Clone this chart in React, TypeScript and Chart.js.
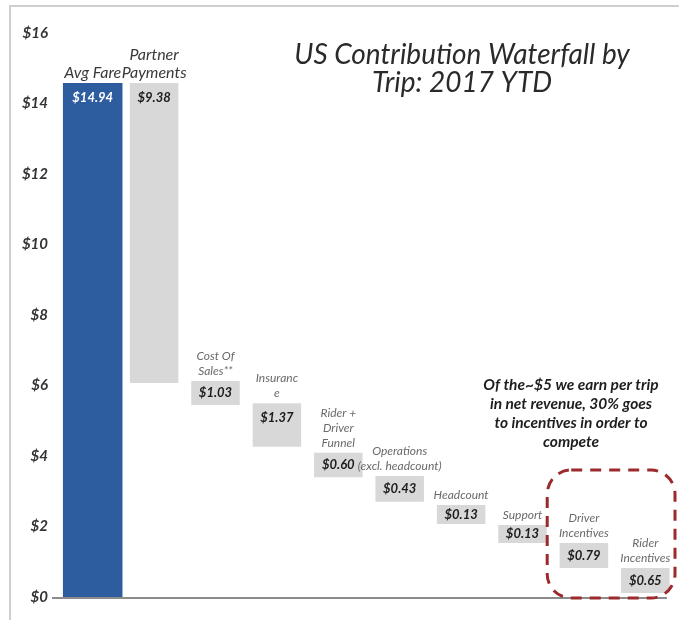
import React, { useEffect, useRef } from "react";
import { Chart, registerables } from "chart.js";

Chart.register(...registerables);

// ---- data ----
const categories: string[][] = [
  ["Avg Fare"],
  ["Partner", "Payments"],
  ["Cost Of", "Sales**"],
  ["Insuranc", "e"],
  ["Rider +", "Driver", "Funnel"],
  ["Operations", "(excl. headcount)"],
  ["Headcount"],
  ["Support"],
  ["Driver", "Incentives"],
  ["Rider", "Incentives"],
];
const valueLabels = ["$14.94", "$9.38", "$1.03", "$1.37", "$0.60", "$0.43", "$0.13", "$0.13", "$0.79", "$0.65"];
// bar extents as drawn in the picture (floating waterfall segments)
const barLows = [0, 6.07, 5.45, 4.26, 3.4, 2.7, 2.07, 1.53, 0.82, 0.11];
const barHighs = [14.58, 14.58, 6.13, 5.5, 4.09, 3.43, 2.61, 2.04, 1.53, 0.82];
const yMin = 0;
const yMax = 16;
const yStep = 2;
const titleLines = ["US Contribution Waterfall by", "Trip: 2017 YTD"];
const noteLines = ["Of the~$5 we earn per trip", "in net revenue, 30% goes", "to incentives in order to", "compete"];
const highlightedCategories = [8, 9];

const FONT = "Lato, 'Open Sans', sans-serif";

const decorPlugin = {
  id: "decor",
  afterDatasetsDraw(chart: any) {
    const ctx = chart.ctx as CanvasRenderingContext2D;
    const yScale = chart.scales.y;
    ctx.save();
    // baseline
    const y0 = yScale.getPixelForValue(0);
    ctx.strokeStyle = "#8c8c8c";
    ctx.lineWidth = 2;
    ctx.beginPath();
    ctx.moveTo(52, y0 + 1);
    ctx.lineTo(667, y0 + 1);
    ctx.stroke();

    categories.forEach((lines, i) => {
      const di = i === 0 ? 0 : 1;
      const el: any = chart.getDatasetMeta(di).data[i];
      if (!el) return;
      const top = Math.min(el.y, el.base);
      const bottom = Math.max(el.y, el.base);
      // value label
      ctx.font = `italic bold 13px ${FONT}`;
      ctx.fillStyle = i === 0 ? "#ffffff" : "#1c1c1c";
      ctx.textAlign = "center";
      ctx.textBaseline = "middle";
      const vy = Math.min(top + 15, (top + bottom) / 2);
      ctx.fillText(valueLabels[i], el.x, vy);
      // category label
      const big = i < 2;
      ctx.font = big ? `italic 16px ${FONT}` : `italic 12px ${FONT}`;
      ctx.fillStyle = big ? "#3a3a3a" : "#6a6a6a";
      const lh = big ? 18 : 15;
      const gap = 10;
      lines.forEach((t, k) => {
        const y = top - gap - (lines.length - 1 - k) * lh;
        ctx.fillText(t, el.x, y);
      });
    });
    ctx.restore();
  },
  afterDraw(chart: any) {
    const ctx = chart.ctx as CanvasRenderingContext2D;
    const xScale = chart.scales.x;
    const yScale = chart.scales.y;
    ctx.save();
    // frame
    ctx.strokeStyle = "#cfcfcf";
    ctx.lineWidth = 2;
    ctx.beginPath();
    ctx.moveTo(10, 620);
    ctx.lineTo(10, 6);
    ctx.lineTo(679, 6);
    ctx.stroke();

    // title
    ctx.font = `italic 28px ${FONT}`;
    ctx.fillStyle = "#2a2a2a";
    ctx.textAlign = "center";
    ctx.textBaseline = "alphabetic";
    titleLines.forEach((t, k) => ctx.fillText(t, 462, 64 + k * 28));

    // note
    ctx.font = `italic bold 15.5px ${FONT}`;
    ctx.fillStyle = "#1e1e1e";
    ctx.textBaseline = "middle";
    noteLines.forEach((t, k) => ctx.fillText(t, 571, 385 + k * 19));

    // dashed highlight box
    const half = (xScale.getPixelForValue(1) - xScale.getPixelForValue(0)) / 2;
    const left = xScale.getPixelForValue(highlightedCategories[0]) - half - 6;
    const right = xScale.getPixelForValue(highlightedCategories[highlightedCategories.length - 1]) + half - 1;
    const top = 470;
    const bottom = yScale.getPixelForValue(0) + 1;
    ctx.strokeStyle = "#9c2a2c";
    ctx.lineWidth = 3;
    ctx.setLineDash([11, 8]);
    ctx.beginPath();
    (ctx as any).roundRect(left, top, right - left, bottom - top, 24);
    ctx.stroke();
    ctx.restore();
  },
};

export default function App() {
  const ref = useRef<HTMLCanvasElement | null>(null);
  useEffect(() => {
    if (!ref.current) return;
    const chart = new Chart(ref.current, {
      type: "bar",
      data: {
        labels: categories,
        datasets: [
          {
            label: "Avg Fare",
            data: barLows.map((l, i) => (i === 0 ? [l, barHighs[i]] : null)) as any,
            backgroundColor: "#2e5d9f",
            barPercentage: 0.97,
            categoryPercentage: 1,
            grouped: false,
          },
          {
            label: "Costs",
            data: barLows.map((l, i) => (i > 0 ? [l, barHighs[i]] : null)) as any,
            backgroundColor: "#d8d8d8",
            barPercentage: 0.79,
            categoryPercentage: 1,
            grouped: false,
          },
        ],
      },
      options: {
        animation: false,
        responsive: false,
        layout: { padding: { left: 0, right: 3, top: 33, bottom: 23 } },
        plugins: { legend: { display: false }, tooltip: { enabled: false }, title: { display: false } },
        scales: {
          x: { display: false },
          y: {
            min: yMin,
            max: yMax,
            grid: { display: false },
            border: { display: false },
            ticks: {
              stepSize: yStep,
              padding: 6,
              color: "#333333",
              font: { family: FONT, size: 15, style: "italic", weight: "bold" },
              callback: (v: any) => `$${v}`,
            },
            afterFit: (axis: any) => {
              axis.width = 62;
            },
          },
        },
      },
      plugins: [decorPlugin],
    });
    return () => chart.destroy();
  }, []);
  return (
    <div style={{ position: "fixed", left: 0, top: 0, width: 679, height: 620, background: "#fff" }}>
      <canvas ref={ref} width={679} height={620} style={{ display: "block" }} />
    </div>
  );
}
